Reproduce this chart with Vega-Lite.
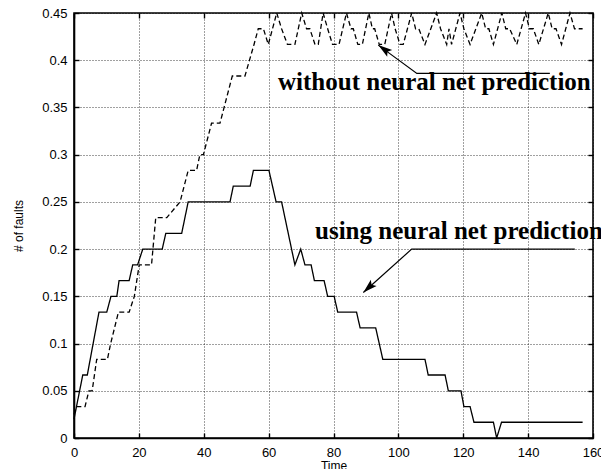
{
  "$schema": "https://vega.github.io/schema/vega-lite/v6.json",
  "width": 519,
  "height": 425,
  "autosize": {"type": "none"},
  "padding": {"left": 74, "top": 13, "right": 8, "bottom": 31},
  "background": "white",
  "config": {
    "view": {"stroke": "black", "strokeWidth": 1.6},
    "axis": {
      "labelFont": "Liberation Sans",
      "titleFont": "Liberation Sans",
      "labelFontSize": 13,
      "titleFontSize": 12,
      "titleFontWeight": "normal",
      "labelColor": "black",
      "titleColor": "black",
      "domainColor": "black",
      "tickColor": "black",
      "domainWidth": 1.6,
      "tickWidth": 1.4,
      "gridColor": "black",
      "gridOpacity": 0.75,
      "gridDash": [1, 2],
      "gridWidth": 1
    }
  },
  "datasets": {
    "curves": [
      {"t": 0, "faults": 0.02, "series": "using"},
      {"t": 2.7, "faults": 0.0667, "series": "using"},
      {"t": 4.1, "faults": 0.0667, "series": "using"},
      {"t": 7.7, "faults": 0.1333, "series": "using"},
      {"t": 10.1, "faults": 0.1333, "series": "using"},
      {"t": 11.4, "faults": 0.15, "series": "using"},
      {"t": 13.2, "faults": 0.15, "series": "using"},
      {"t": 13.9, "faults": 0.1667, "series": "using"},
      {"t": 17, "faults": 0.1667, "series": "using"},
      {"t": 18.1, "faults": 0.1833, "series": "using"},
      {"t": 19.6, "faults": 0.1833, "series": "using"},
      {"t": 21.2, "faults": 0.2, "series": "using"},
      {"t": 27.2, "faults": 0.2, "series": "using"},
      {"t": 28.3, "faults": 0.2167, "series": "using"},
      {"t": 33.2, "faults": 0.2167, "series": "using"},
      {"t": 35.2, "faults": 0.25, "series": "using"},
      {"t": 48.1, "faults": 0.25, "series": "using"},
      {"t": 49.1, "faults": 0.2667, "series": "using"},
      {"t": 54.3, "faults": 0.2667, "series": "using"},
      {"t": 55.3, "faults": 0.2833, "series": "using"},
      {"t": 60.1, "faults": 0.2833, "series": "using"},
      {"t": 62.3, "faults": 0.25, "series": "using"},
      {"t": 64, "faults": 0.25, "series": "using"},
      {"t": 68.1, "faults": 0.1833, "series": "using"},
      {"t": 69.9, "faults": 0.2, "series": "using"},
      {"t": 71.2, "faults": 0.1833, "series": "using"},
      {"t": 73.1, "faults": 0.1833, "series": "using"},
      {"t": 74.1, "faults": 0.1667, "series": "using"},
      {"t": 77.1, "faults": 0.1667, "series": "using"},
      {"t": 78.2, "faults": 0.15, "series": "using"},
      {"t": 80.2, "faults": 0.15, "series": "using"},
      {"t": 81.3, "faults": 0.1333, "series": "using"},
      {"t": 87.1, "faults": 0.1333, "series": "using"},
      {"t": 88.2, "faults": 0.1167, "series": "using"},
      {"t": 93, "faults": 0.1167, "series": "using"},
      {"t": 95.2, "faults": 0.0833, "series": "using"},
      {"t": 108.2, "faults": 0.0833, "series": "using"},
      {"t": 109.2, "faults": 0.0667, "series": "using"},
      {"t": 114.4, "faults": 0.0667, "series": "using"},
      {"t": 115.4, "faults": 0.05, "series": "using"},
      {"t": 119.3, "faults": 0.05, "series": "using"},
      {"t": 120.2, "faults": 0.0333, "series": "using"},
      {"t": 122.1, "faults": 0.0333, "series": "using"},
      {"t": 123.3, "faults": 0.0167, "series": "using"},
      {"t": 129.3, "faults": 0.0167, "series": "using"},
      {"t": 130.3, "faults": 0, "series": "using"},
      {"t": 131.8, "faults": 0.0167, "series": "using"},
      {"t": 156.8, "faults": 0.0167, "series": "using"},

      {"t": 0, "faults": 0.025, "series": "without"},
      {"t": 0.8, "faults": 0.0333, "series": "without"},
      {"t": 3.4, "faults": 0.0333, "series": "without"},
      {"t": 4.6, "faults": 0.05, "series": "without"},
      {"t": 5.6, "faults": 0.05, "series": "without"},
      {"t": 7, "faults": 0.0833, "series": "without"},
      {"t": 10.3, "faults": 0.0833, "series": "without"},
      {"t": 11.3, "faults": 0.1, "series": "without"},
      {"t": 13.7, "faults": 0.1333, "series": "without"},
      {"t": 17, "faults": 0.1333, "series": "without"},
      {"t": 18.6, "faults": 0.15, "series": "without"},
      {"t": 20.1, "faults": 0.1833, "series": "without"},
      {"t": 23.9, "faults": 0.1833, "series": "without"},
      {"t": 25.2, "faults": 0.2333, "series": "without"},
      {"t": 28.6, "faults": 0.2333, "series": "without"},
      {"t": 32.7, "faults": 0.25, "series": "without"},
      {"t": 35.2, "faults": 0.2833, "series": "without"},
      {"t": 37.8, "faults": 0.2833, "series": "without"},
      {"t": 38.8, "faults": 0.3, "series": "without"},
      {"t": 39.9, "faults": 0.3, "series": "without"},
      {"t": 42.4, "faults": 0.3333, "series": "without"},
      {"t": 45, "faults": 0.3333, "series": "without"},
      {"t": 48.8, "faults": 0.3833, "series": "without"},
      {"t": 52.7, "faults": 0.3833, "series": "without"},
      {"t": 55.5, "faults": 0.4167, "series": "without"},
      {"t": 56.8, "faults": 0.4333, "series": "without"},
      {"t": 58.4, "faults": 0.4333, "series": "without"},
      {"t": 59.9, "faults": 0.4167, "series": "without"},
      {"t": 62.5, "faults": 0.45, "series": "without"},
      {"t": 64, "faults": 0.4333, "series": "without"},
      {"t": 65.8, "faults": 0.4167, "series": "without"},
      {"t": 68.1, "faults": 0.4167, "series": "without"},
      {"t": 70.2, "faults": 0.45, "series": "without"},
      {"t": 71.7, "faults": 0.4333, "series": "without"},
      {"t": 72.7, "faults": 0.4333, "series": "without"},
      {"t": 74.3, "faults": 0.4167, "series": "without"},
      {"t": 75.3, "faults": 0.4167, "series": "without"},
      {"t": 76.8, "faults": 0.45, "series": "without"},
      {"t": 78.2, "faults": 0.4333, "series": "without"},
      {"t": 79.7, "faults": 0.4167, "series": "without"},
      {"t": 81.7, "faults": 0.4167, "series": "without"},
      {"t": 84, "faults": 0.45, "series": "without"},
      {"t": 85.4, "faults": 0.4333, "series": "without"},
      {"t": 86.1, "faults": 0.4333, "series": "without"},
      {"t": 87.5, "faults": 0.4167, "series": "without"},
      {"t": 88.9, "faults": 0.4167, "series": "without"},
      {"t": 90.9, "faults": 0.45, "series": "without"},
      {"t": 92, "faults": 0.4333, "series": "without"},
      {"t": 92.7, "faults": 0.4333, "series": "without"},
      {"t": 94.1, "faults": 0.4167, "series": "without"},
      {"t": 95.8, "faults": 0.4167, "series": "without"},
      {"t": 97.9, "faults": 0.45, "series": "without"},
      {"t": 99, "faults": 0.4333, "series": "without"},
      {"t": 100.5, "faults": 0.4167, "series": "without"},
      {"t": 101.5, "faults": 0.4167, "series": "without"},
      {"t": 104.1, "faults": 0.45, "series": "without"},
      {"t": 105.3, "faults": 0.4333, "series": "without"},
      {"t": 106.3, "faults": 0.4333, "series": "without"},
      {"t": 108.2, "faults": 0.4167, "series": "without"},
      {"t": 111.8, "faults": 0.45, "series": "without"},
      {"t": 113, "faults": 0.4333, "series": "without"},
      {"t": 114.9, "faults": 0.4167, "series": "without"},
      {"t": 115.6, "faults": 0.4333, "series": "without"},
      {"t": 116.4, "faults": 0.4167, "series": "without"},
      {"t": 119, "faults": 0.45, "series": "without"},
      {"t": 120.2, "faults": 0.4333, "series": "without"},
      {"t": 122.1, "faults": 0.4167, "series": "without"},
      {"t": 125.7, "faults": 0.45, "series": "without"},
      {"t": 126.9, "faults": 0.4333, "series": "without"},
      {"t": 127.9, "faults": 0.4333, "series": "without"},
      {"t": 129.3, "faults": 0.4167, "series": "without"},
      {"t": 131.9, "faults": 0.45, "series": "without"},
      {"t": 133.1, "faults": 0.4333, "series": "without"},
      {"t": 134.3, "faults": 0.4333, "series": "without"},
      {"t": 136.5, "faults": 0.4167, "series": "without"},
      {"t": 139.2, "faults": 0.45, "series": "without"},
      {"t": 140.4, "faults": 0.4333, "series": "without"},
      {"t": 141.6, "faults": 0.4333, "series": "without"},
      {"t": 143.3, "faults": 0.4167, "series": "without"},
      {"t": 146.2, "faults": 0.45, "series": "without"},
      {"t": 147.4, "faults": 0.4333, "series": "without"},
      {"t": 148.6, "faults": 0.4333, "series": "without"},
      {"t": 150.3, "faults": 0.4167, "series": "without"},
      {"t": 152.9, "faults": 0.45, "series": "without"},
      {"t": 154.3, "faults": 0.4333, "series": "without"},
      {"t": 156.8, "faults": 0.4333, "series": "without"}
    ],
    "leaders": [
      {"t": 93.8, "faults": 0.416, "arrow": "without"},
      {"t": 105.7, "faults": 0.386, "arrow": "without"},
      {"t": 146.7, "faults": 0.386, "arrow": "without"},
      {"t": 89.2, "faults": 0.154, "arrow": "using"},
      {"t": 104.1, "faults": 0.2, "arrow": "using"},
      {"t": 154.4, "faults": 0.2, "arrow": "using"}
    ],
    "labels": [
      {"t": 62.9, "faults": 0.368, "label": "without neural net prediction"},
      {"t": 74.3, "faults": 0.211, "label": "using neural net prediction"}
    ]
  },
  "resolve": {"axis": {"x": "independent", "y": "independent"}},
  "layer": [
    {
      "data": {"name": "curves"},
      "mark": {"type": "line", "color": "black", "strokeWidth": 1.3, "clip": false},
      "encoding": {
        "x": {
          "field": "t", "type": "quantitative",
          "scale": {"domain": [0, 160], "nice": false, "zero": false},
          "axis": {
            "orient": "bottom", "title": "Time",
            "values": [0, 20, 40, 60, 80, 100, 120, 140, 160],
            "grid": true, "tickSize": -5, "labelPadding": 13,
            "titlePadding": 1, "labelFlush": false
          }
        },
        "y": {
          "field": "faults", "type": "quantitative",
          "scale": {"domain": [0, 0.45], "nice": false},
          "axis": {
            "orient": "left", "title": "# of faults",
            "values": [0, 0.05, 0.1, 0.15, 0.2, 0.25, 0.3, 0.35, 0.4, 0.45],
            "format": "~g",
            "grid": true, "tickSize": -5, "labelPadding": 12,
            "titlePadding": 16, "labelFlush": false
          }
        },
        "strokeDash": {
          "field": "series", "type": "nominal",
          "scale": {"domain": ["using", "without"], "range": [[1, 0], [5, 3]]},
          "legend": null
        }
      }
    },
    {
      "data": {"name": "curves"},
      "mark": {"type": "point", "opacity": 0},
      "encoding": {
        "x": {
          "field": "t", "type": "quantitative",
          "axis": {
            "orient": "top", "title": null, "labels": false, "domain": false,
            "grid": false, "tickSize": -5,
            "values": [0, 20, 40, 60, 80, 100, 120, 140, 160]
          }
        },
        "y": {
          "field": "faults", "type": "quantitative",
          "axis": {
            "orient": "right", "title": null, "labels": false, "domain": false,
            "grid": false, "tickSize": -5,
            "values": [0, 0.05, 0.1, 0.15, 0.2, 0.25, 0.3, 0.35, 0.4, 0.45]
          }
        }
      }
    },
    {
      "data": {"name": "leaders"},
      "mark": {"type": "line", "color": "black", "strokeWidth": 1.2},
      "encoding": {
        "x": {"field": "t", "type": "quantitative", "axis": null},
        "y": {"field": "faults", "type": "quantitative", "axis": null},
        "detail": {"field": "arrow", "type": "nominal"}
      }
    },
    {
      "data": {"name": "leaders"},
      "transform": [{"filter": "datum.arrow == 'without' && datum.t < 100"}],
      "mark": {"type": "point", "shape": "M0,0L-0.6,2L0,1.6L0.6,2Z", "size": 200, "filled": true, "color": "black", "opacity": 1, "angle": 306},
      "encoding": {
        "x": {"field": "t", "type": "quantitative", "axis": null},
        "y": {"field": "faults", "type": "quantitative", "axis": null}
      }
    },
    {
      "data": {"name": "leaders"},
      "transform": [{"filter": "datum.arrow == 'using' && datum.t < 100"}],
      "mark": {"type": "point", "shape": "M0,0L-0.6,2L0,1.6L0.6,2Z", "size": 200, "filled": true, "color": "black", "opacity": 1, "angle": 227},
      "encoding": {
        "x": {"field": "t", "type": "quantitative", "axis": null},
        "y": {"field": "faults", "type": "quantitative", "axis": null}
      }
    },
    {
      "data": {"name": "labels"},
      "mark": {"type": "text", "font": "Liberation Serif", "fontWeight": "bold", "fontSize": 25, "align": "left", "baseline": "alphabetic", "color": "black"},
      "encoding": {
        "x": {"field": "t", "type": "quantitative", "axis": null},
        "y": {"field": "faults", "type": "quantitative", "axis": null},
        "text": {"field": "label", "type": "nominal"}
      }
    }
  ]
}
